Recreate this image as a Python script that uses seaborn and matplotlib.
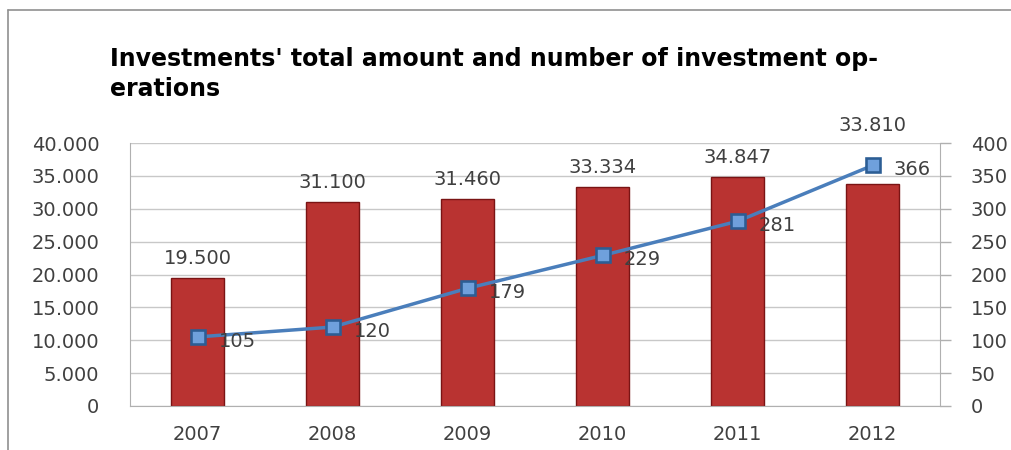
import matplotlib
matplotlib.use("Agg")
from matplotlib import pyplot as plt
from matplotlib.ticker import FuncFormatter
from matplotlib.lines import Line2D
import seaborn as sns
import pandas as pd

years = ["2007", "2008", "2009", "2010", "2011", "2012"]
amounts = [19500, 31100, 31460, 33334, 34847, 33810]
operations = [105, 120, 179, 229, 281, 366]

df = pd.DataFrame({"year": years, "amount": amounts, "ops": operations})

sns.set_style("white")
plt.rcParams["font.family"] = ["DejaVu Sans"]
txt = "#404040"
grid = "#c8c8c8"
fs = 14

fig = plt.figure(figsize=(10.12, 4.5), dpi=100)
ax = fig.add_axes([0.1285, 0.098, 0.8004, 0.584])

sns.barplot(data=df, x="year", y="amount", color="#b93331", width=0.39,
            edgecolor="#7a1414", linewidth=1.0, saturation=1, ax=ax)
ax.set_ylim(0, 40000)
ax.set_yticks(range(0, 40001, 5000))
ax.yaxis.set_major_formatter(FuncFormatter(lambda v, p: f"{int(v):,}".replace(",", ".")))
ax.grid(axis="y", color=grid, linewidth=1)
ax.set_axisbelow(True)
ax.set_xlabel("")
ax.set_ylabel("")
ax.tick_params(axis="both", labelsize=fs, colors=txt, length=0)
ax.tick_params(axis="x", pad=14)
ax.tick_params(axis="y", pad=22)
for s in ["left", "bottom"]:
    ax.spines[s].set_color("#b0b0b0")
for s in ["top", "right"]:
    ax.spines[s].set_visible(False)

for i, v in enumerate(amounts):
    lbl = f"{v:,}".replace(",", ".")
    if i == len(amounts) - 1:
        ax.annotate(lbl, (i, 1.0), xycoords=("data", "axes fraction"),
                    xytext=(0, 6), textcoords="offset points",
                    ha="center", va="bottom", fontsize=fs, color=txt)
    else:
        ax.annotate(lbl, (i, v), xytext=(0, 7), textcoords="offset points",
                    ha="center", va="bottom", fontsize=fs, color=txt)

ax2 = ax.twinx()
sns.pointplot(data=df, x="year", y="ops", color="#4a7ebb", markers="s",
              linestyles="-", ax=ax2, markersize=10, linewidth=2.5)
for ln in ax2.lines:
    ln.set_markeredgecolor("#2c5d94")
    ln.set_markerfacecolor("#6fa0dc")
ax2.set_ylim(0, 400)
ax2.set_yticks(range(0, 401, 50))
ax2.set_xlim(-0.5, 5.5)
ax.set_xlim(-0.5, 5.5)
ax2.set_ylabel("")
ax2.tick_params(axis="y", labelsize=fs, colors=txt, length=8, width=1, pad=14)
ax2.tick_params(axis="y", color="#b0b0b0")
for s in ["top", "left", "bottom"]:
    ax2.spines[s].set_visible(False)
ax2.spines["right"].set_color("#b0b0b0")

for i, v in enumerate(operations):
    ax2.annotate(str(v), (i, v), xytext=(15, -3), textcoords="offset points",
                 ha="left", va="center", fontsize=fs, color=txt)

fig.text(0.109, 0.836, "Investments' total amount and number of investment op-\nerations",
         fontsize=17, fontweight="bold", color="black", va="center", ha="left",
         linespacing=1.3)

# outer chart frame
fig.add_artist(Line2D([0.008, 0.008], [0.0, 0.978], transform=fig.transFigure,
                      color="#909090", linewidth=1.2))
fig.add_artist(Line2D([0.008, 1.0], [0.978, 0.978], transform=fig.transFigure,
                      color="#909090", linewidth=1.2))

fig.savefig("out.png", dpi=100)
